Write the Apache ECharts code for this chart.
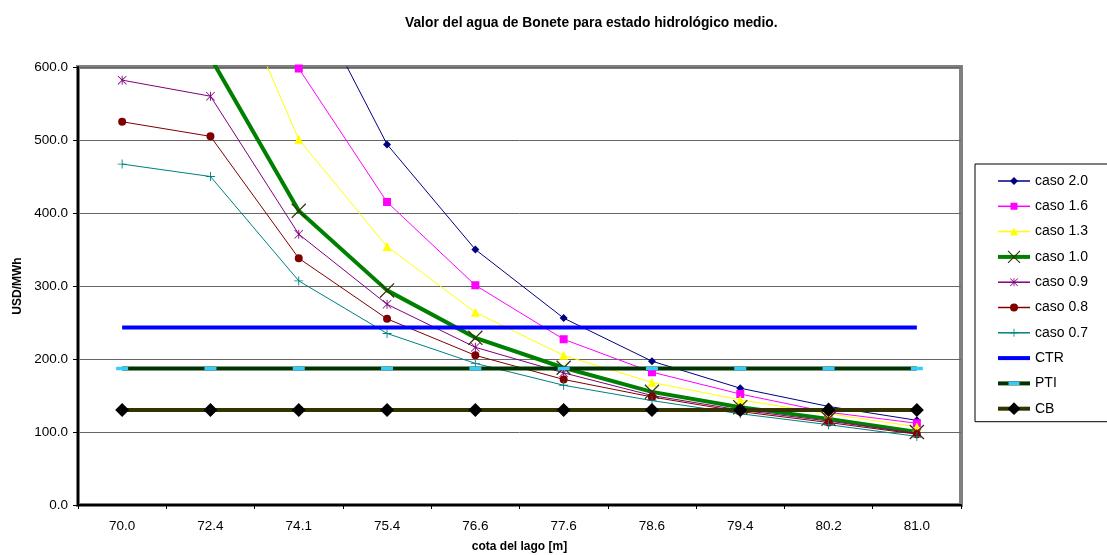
<!DOCTYPE html>
<html>
<head>
<meta charset="utf-8">
<script src="https://cdn.jsdelivr.net/npm/echarts@6/dist/echarts.min.js"></script>
<style>html,body{margin:0;padding:0;background:#fff;}#c{width:1107px;height:555px;}</style>
</head>
<body>
<div id="c"></div>
<script>
var categories = ['70.0','72.4','74.1','75.4','76.6','77.6','78.6','79.4','80.2','81.0'];
var yTicks = [0, 100, 200, 300, 400, 500, 600];
var caso20 = [1100, 1000, 728, 494, 350, 256, 197, 160, 135, 116];
var caso16 = [1150, 1050, 598, 415, 301, 227, 182, 152, 127, 112];
var caso13 = [900, 780, 501, 354, 264, 205, 168, 144, 125, 107];
var caso10 = [640, 613, 403, 294, 229, 188, 155, 134, 118, 100];
var caso09 = [582, 560, 371, 275, 216, 181, 150, 130, 115, 98];
var caso08 = [525, 505, 338, 255, 205, 172, 148, 128, 113, 97];
var caso07 = [467, 450, 307, 235, 194, 164, 143, 125, 110, 94];
var ctr = [243, 243, 243, 243, 243, 243, 243, 243, 243, 243];
var pti = [187, 187, 187, 187, 187, 187, 187, 187, 187, 187];
var cb = [130, 130, 130, 130, 130, 130, 130, 130, 130, 130];

var FONT = '"Liberation Sans", Arial, sans-serif';
var LEG_H = 16;
var LEG_SYM = LEG_H * 0.8;

// symbol shapes in a 10x10 box
var SHAPES = {
  diamond: 'M5,0L10,5L5,10L0,5Z',
  square: 'M0,0H10V10H0Z',
  triangle: 'M5,0L10,10L0,10Z',
  cross: 'M0.6,0L5,4.4L9.4,0L10,0.6L5.6,5L10,9.4L9.4,10L5,5.6L0.6,10L0,9.4L4.4,5L0,0.6Z',
  star: 'M0.6,0L5,4.4L9.4,0L10,0.6L5.6,5L10,9.4L9.4,10L5,5.6L0.6,10L0,9.4L4.4,5L0,0.6Z M4.5,0L5.5,0L5.5,10L4.5,10Z',
  circle: 'M0,5A5,5 0 1,1 10,5A5,5 0 1,1 0,5Z',
  plus: 'M4.5,0H5.5V4.5H10V5.5H5.5V10H4.5V5.5H0V4.5H4.5Z',
  dash: 'M0,3.5H10V6.5H0Z'
};
// padded symbol so legend icon shows it at legendSize while series shows seriesSize
function sym(shape, legendSize, seriesSize) {
  var p = Math.max(0, (LEG_SYM * 10 / legendSize - 10) / 2);
  var path = 'path://' + SHAPES[shape] +
    ' M' + (-p) + ',' + (-p) + 'L' + (-p) + ',' + (-p) + 'Z' +
    ' M' + (10 + p) + ',' + (10 + p) + 'L' + (10 + p) + ',' + (10 + p) + 'Z';
  return { symbol: path, size: seriesSize * (10 + 2 * p) / 10 };
}

function ser(name, data, color, width, s, symColor) {
  return {
    name: name, type: 'line', data: data,
    symbol: s ? s.symbol : 'none', symbolSize: s ? s.size : 0, showAllSymbol: true,
    symbolKeepAspect: true,
    lineStyle: { color: color, width: width },
    itemStyle: { color: symColor || color, borderWidth: 0 },
    emphasis: { disabled: true },
    animation: false
  };
}

var series = [
  ser('caso 2.0', caso20, '#000080', 1, sym('diamond', 8, 8)),
  ser('caso 1.6', caso16, '#ff00ff', 1, sym('square', 7, 8)),
  ser('caso 1.3', caso13, '#ffff00', 1, sym('triangle', 8, 9)),
  ser('caso 1.0', caso10, '#008000', 4, sym('cross', 12.8, 15), '#333300'),
  ser('caso 0.9', caso09, '#800080', 1, sym('star', 8, 9)),
  ser('caso 0.8', caso08, '#800000', 1, sym('circle', 8, 8)),
  ser('caso 0.7', caso07, '#008080', 1, sym('plus', 8, 9)),
  ser('CTR', ctr, '#0000ff', 4, null),
  ser('PTI', pti, '#003300', 4, sym('dash', 11, 12), '#33ccff'),
  ser('CB', cb, '#333300', 4, sym('diamond', 12.8, 14), '#000000')
];

var legendData = series.map(function (s) {
  var item = { name: s.name, lineStyle: { width: s.lineStyle.width > 1 ? 4 : 1.5 } };
  if (s.name === 'CTR') item.itemStyle = { opacity: 0 };
  return item;
});

var chart = echarts.init(document.getElementById('c'), null, { renderer: 'canvas' });
chart.setOption({
  backgroundColor: '#ffffff',
  animation: false,
  title: {
    text: 'Valor del agua de Bonete para estado hidrológico medio.',
    left: 400, top: 11,
    textStyle: { fontFamily: FONT, fontSize: 13.8, fontWeight: 'bold', color: '#000' }
  },
  legend: {
    orient: 'vertical',
    left: 975, top: 164,
    padding: [10, 40, 6, 21],
    itemWidth: 32, itemHeight: LEG_H, itemGap: 11.3,
    borderColor: '#000', borderWidth: 1, borderRadius: 0,
    textStyle: { fontFamily: FONT, fontSize: 14, color: '#000' },
    data: legendData
  },
  grid: {
    left: 78, right: 146, top: 67, bottom: 50,
    outerBoundsMode: 'none',
    containLabel: false,
    show: true, borderColor: '#808080', borderWidth: 4, backgroundColor: '#fff'
  },
  xAxis: {
    type: 'category',
    data: categories,
    boundaryGap: true,
    name: 'cota del lago [m]',
    nameLocation: 'middle', nameGap: 36,
    nameTextStyle: { fontFamily: FONT, fontSize: 12, fontWeight: 'bold', color: '#000' },
    axisLine: { lineStyle: { color: '#000', width: 2 } },
    axisTick: { show: true, alignWithLabel: false, length: 4, lineStyle: { color: '#000' } },
    axisLabel: { fontFamily: FONT, fontSize: 13.5, color: '#000', margin: 14 },
    splitLine: { show: false }
  },
  yAxis: {
    type: 'value',
    min: yTicks[0], max: yTicks[yTicks.length - 1], interval: 100,
    name: 'USD/MWh',
    nameLocation: 'middle', nameGap: 53,
    nameTextStyle: { fontFamily: FONT, fontSize: 12, fontWeight: 'bold', color: '#000' },
    axisLine: { show: true, lineStyle: { color: '#000', width: 2 } },
    axisTick: { show: true, length: 5, lineStyle: { color: '#000' } },
    axisLabel: {
      fontFamily: FONT, fontSize: 13.5, color: '#000', margin: 10,
      formatter: function (v) { return v.toFixed(1); }
    },
    splitLine: { show: true, lineStyle: { color: '#666', width: 1 } }
  },
  series: series
});
</script>
</body>
</html>
